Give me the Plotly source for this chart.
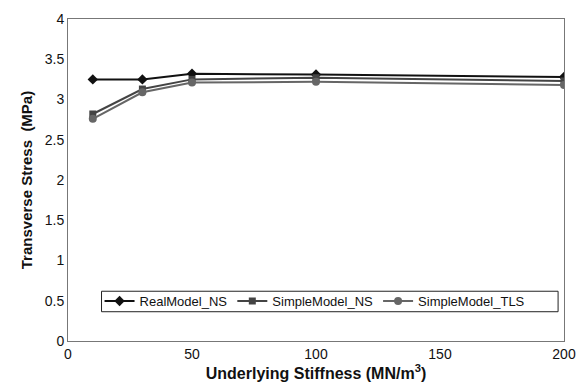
import plotly.graph_objects as go

stiffness = [10, 30, 50, 100, 200]
real_ns = [3.25, 3.25, 3.32, 3.31, 3.28]
simple_ns = [2.82, 3.13, 3.25, 3.27, 3.23]
simple_tls = [2.76, 3.09, 3.21, 3.22, 3.18]

x_ticks = [0, 50, 100, 150, 200]
y_ticks = [0, 0.5, 1, 1.5, 2, 2.5, 3, 3.5, 4]
y_tick_text = ["0", "0.5", "1", "1.5", "2", "2.5", "3", "3.5", "4"]

fig = go.Figure()
fig.add_trace(go.Scatter(x=stiffness, y=real_ns, mode="lines+markers", name="RealModel_NS",
                         line=dict(color="#111111", width=2),
                         marker=dict(symbol="diamond", size=8, color="#111111")))
fig.add_trace(go.Scatter(x=stiffness, y=simple_ns, mode="lines+markers", name="SimpleModel_NS",
                         line=dict(color="#444444", width=2),
                         marker=dict(symbol="square", size=7, color="#444444")))
fig.add_trace(go.Scatter(x=stiffness, y=simple_tls, mode="lines+markers", name="SimpleModel_TLS",
                         line=dict(color="#666666", width=2),
                         marker=dict(symbol="circle", size=8, color="#666666")))

fig.add_shape(type="rect", xref="paper", yref="paper",
              x0=(102 - 68) / 503, x1=(565 - 68) / 503,
              y0=(341 - 311) / 330, y1=(341 - 290) / 330,
              line=dict(color="#222222", width=1), fillcolor="white", layer="below")

fig.update_layout(
    width=587, height=392,
    margin=dict(l=68, r=16, t=11, b=51),
    paper_bgcolor="white", plot_bgcolor="white",
    font=dict(family="Arial, Liberation Sans, sans-serif", size=14, color="#111111"),
    showlegend=True,
    legend=dict(orientation="h", x=(100 - 68) / 503, y=(341 - 300) / 330,
                xanchor="left", yanchor="middle",
                bgcolor="rgba(0,0,0,0)", borderwidth=0,
                font=dict(size=13)),
    xaxis=dict(range=[0, 200], tickvals=x_ticks, showgrid=False, zeroline=False,
               showline=True, linecolor="#777777", linewidth=1, mirror=True,
               ticks="", tickfont=dict(size=14),
               title=dict(text="<b>Underlying Stiffness (MN/m<sup>3</sup>)</b>",
                          font=dict(size=16), standoff=6)),
    yaxis=dict(range=[0, 4], tickvals=y_ticks, ticktext=y_tick_text, showgrid=False,
               zeroline=False, showline=True, linecolor="#777777", linewidth=1, mirror=True,
               ticks="", tickfont=dict(size=14),
               title=dict(text="<b>Transverse Stress  (MPa)</b>", font=dict(size=15), standoff=8)),
)

fig.write_html("out.html")
